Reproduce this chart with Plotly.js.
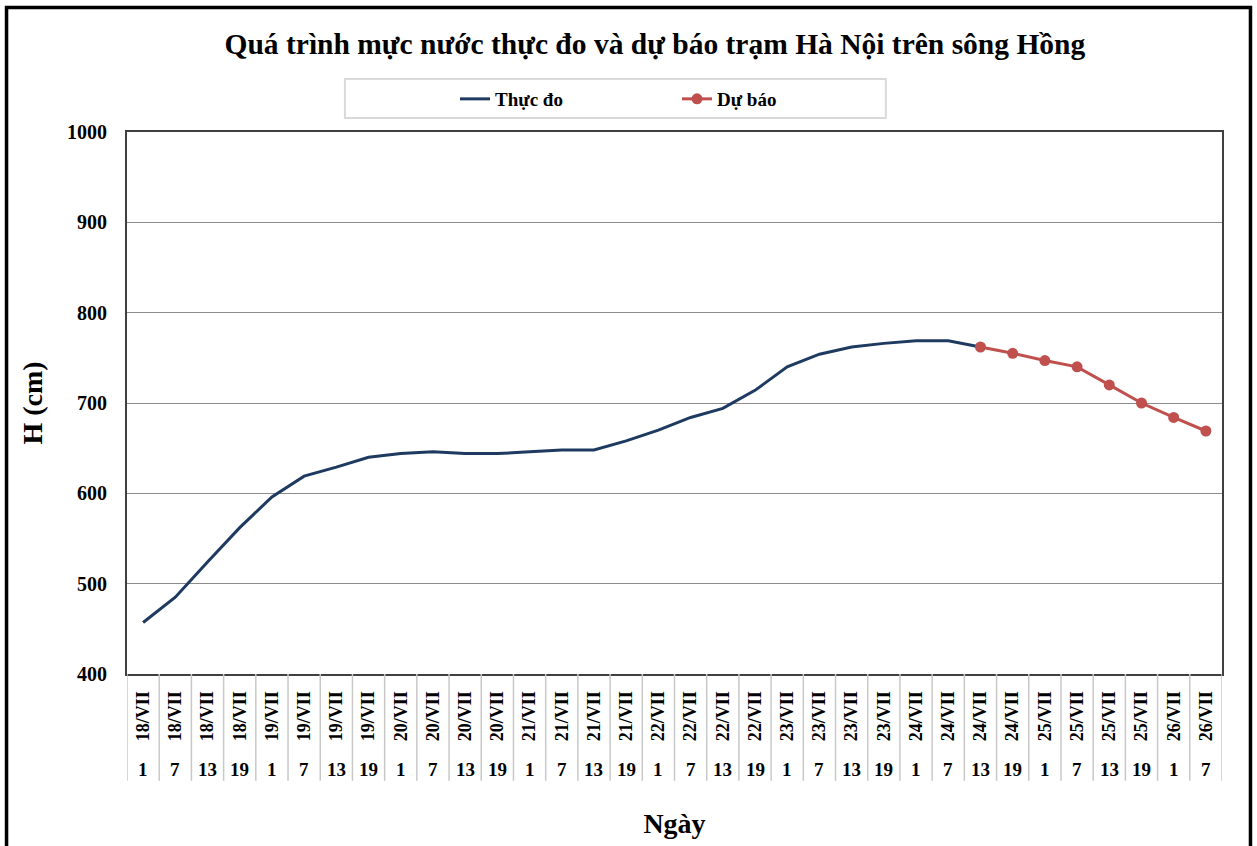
<!DOCTYPE html>
<html>
<head>
<meta charset="utf-8">
<script src="https://cdn.plot.ly/plotly-3.0.1.min.js"></script>
<style>html,body{margin:0;padding:0;background:#fff;}#chart{width:1257px;height:846px;}</style>
</head>
<body>
<div id="chart"></div>
<script>
const dates = ["18/VII","18/VII","18/VII","18/VII","19/VII","19/VII","19/VII","19/VII","20/VII","20/VII","20/VII","20/VII","21/VII","21/VII","21/VII","21/VII","22/VII","22/VII","22/VII","22/VII","23/VII","23/VII","23/VII","23/VII","24/VII","24/VII","24/VII","24/VII","25/VII","25/VII","25/VII","25/VII","26/VII","26/VII"];
const hours = ["1","7","13","19","1","7","13","19","1","7","13","19","1","7","13","19","1","7","13","19","1","7","13","19","1","7","13","19","1","7","13","19","1","7"];
const observed = [457,485,524,562,596,619,629,640,644,646,644,644,646,648,648,658,670,684,694,714,740,754,762,766,769,769,762];
const forecast = [null,null,null,null,null,null,null,null,null,null,null,null,null,null,null,null,null,null,null,null,null,null,null,null,null,null,762,755,747,740,720,700,684,669];
const yTicks = [400,500,600,700,800,900,1000];

const FONT = "'Liberation Serif','Times New Roman',serif";
const cats = dates.map((d,i)=> d + " " + hours[i]);

const traces = [
  {x: cats.slice(0, observed.length), y: observed, type:'scatter', mode:'lines', name:'<b>Thực đo</b>',
   line:{color:'#1f3a60', width:3}},
  {x: cats, y: forecast, type:'scatter', mode:'lines+markers', name:'<b>Dự báo</b>',
   line:{color:'#c0504d', width:3}, marker:{color:'#c0504d', size:11}}
];

const shapes = [];
for (let i = 0; i <= cats.length; i++) {
  shapes.push({type:'line', xref:'x', yref:'paper', x0:i-0.5, x1:i-0.5, y0:-0.197, y1:0,
    line:{color:'#c8c8c8', width:1.5}});
}
// legend frame
shapes.push({type:'rect', xref:'paper', yref:'paper', x0:0.199, x1:0.693, y0:1.026, y1:1.098,
  line:{color:'#d9d9d9', width:2}});
// outer frame
shapes.push({type:'rect', xref:'paper', yref:'paper', x0:-0.110, x1:1.026, y0:-0.4, y1:1.2297,
  line:{color:'#000', width:3.5}});

const annotations = hours.map((h,i)=>({x:cats[i], y:-0.177, xref:'x', yref:'paper', text:'<b>'+h+'</b>',
  showarrow:false, font:{family:FONT, size:19, color:'#000'}, xanchor:'center', yanchor:'middle'}));

const layout = {
  width:1257, height:846,
  margin:{l:127, r:35, t:132, b:172},
  paper_bgcolor:'#fff', plot_bgcolor:'#fff',
  title:{text:'<b>Quá trình mực nước thực đo và dự báo trạm Hà Nội trên sông Hồng</b>',
    x:0.521, xref:'container', xanchor:'center', y:0.948, yref:'container', yanchor:'middle',
    font:{family:FONT, size:29.5, color:'#000'}},
  showlegend:true,
  legend:{orientation:'h', x:455/1257, xref:'container', xanchor:'left', y:1-99/846, yref:'container', yanchor:'middle',
    font:{family:FONT, size:19, color:'#000'}, bgcolor:'rgba(0,0,0,0)', borderwidth:0,
    entrywidth:177, entrywidthmode:'pixels', itemwidth:30},
  xaxis:{type:'category', categoryorder:'array', categoryarray:cats,
    tickmode:'array', tickvals:cats, ticktext:dates.map(d=>'<b>'+d+'</b>'),
    tickangle:-90, tickfont:{family:FONT, size:18, color:'#000'},
    ticks:'outside', ticklen:8, tickcolor:'rgba(0,0,0,0)',
    showgrid:false, zeroline:false, showline:true, mirror:true, linecolor:'#404040', linewidth:2,
    range:[-0.5, cats.length-0.5], fixedrange:true,
    title:{text:'<b>Ngày</b>', font:{family:FONT, size:28, color:'#000'}, standoff:73}},
  yaxis:{range:[400,1000], tickmode:'array', tickvals:yTicks, ticktext:yTicks.map(v=>'<b>'+v+'</b>'),
    tickfont:{family:FONT, size:20, color:'#000'},
    ticks:'outside', ticklen:14, tickcolor:'rgba(0,0,0,0)',
    showgrid:true, gridcolor:'#8c8c8c', gridwidth:1, zeroline:false,
    showline:true, mirror:true, linecolor:'#404040', linewidth:2, fixedrange:true,
    title:{text:'<b>H (cm)</b>', font:{family:FONT, size:28, color:'#000'}, standoff:16}},
  shapes:shapes,
  annotations:annotations
};

Plotly.newPlot('chart', traces, layout, {displayModeBar:false, staticPlot:true});
</script>
</body>
</html>
